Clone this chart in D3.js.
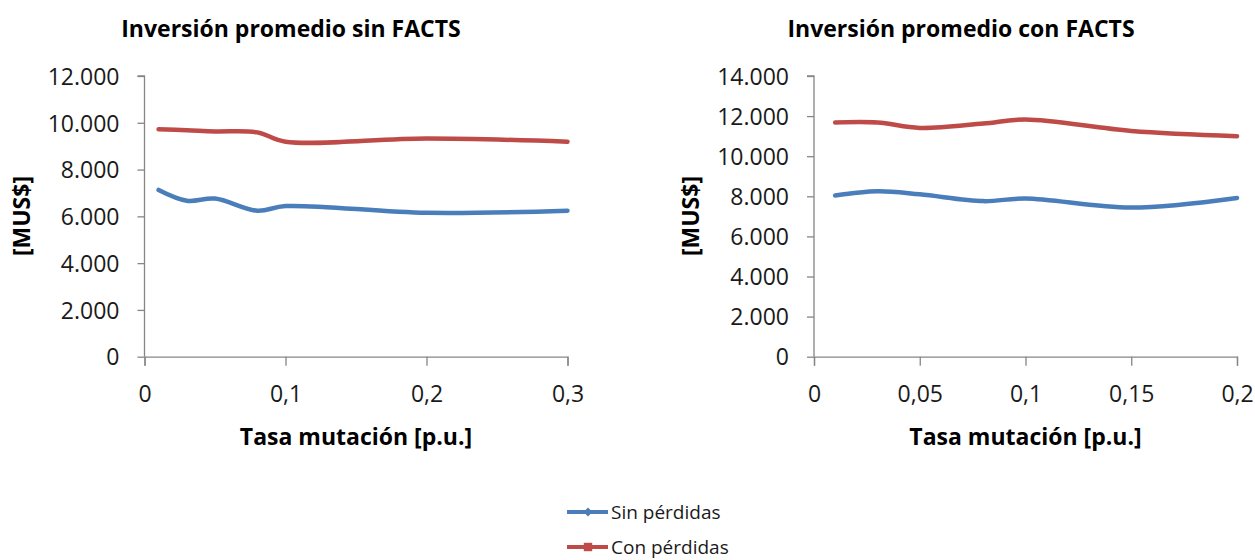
<!DOCTYPE html>
<html>
<head>
<meta charset="utf-8">
<script src="https://cdn.jsdelivr.net/npm/d3@7"></script>
<style>
  body { margin: 0; background: #ffffff; }
  svg { display: block; font-family: "Open Sans", "Noto Sans", sans-serif; }
</style>
</head>
<body>
<svg id="chart" width="1255" height="560"></svg>
<script>
// Left panel: investment without FACTS
const rateSin = [0.01, 0.03, 0.05, 0.08, 0.1, 0.2, 0.3];
const sinFactsSinPerdidas = [7130, 6670, 6760, 6240, 6440, 6150, 6240];
const sinFactsConPerdidas = [9720, 9680, 9630, 9590, 9190, 9330, 9190];

// Right panel: investment with FACTS
const rateCon = [0.01, 0.03, 0.05, 0.08, 0.1, 0.15, 0.2];
const conFactsSinPerdidas = [8040, 8250, 8100, 7760, 7890, 7440, 7920];
const conFactsConPerdidas = [11680, 11680, 11410, 11630, 11830, 11260, 11000];

const xTicksSin = [0, 0.1, 0.2, 0.3];
const xTicksCon = [0, 0.05, 0.1, 0.15, 0.2];
const yTicksSin = [0, 2000, 4000, 6000, 8000, 10000, 12000];
const yTicksCon = [0, 2000, 4000, 6000, 8000, 10000, 12000, 14000];

const seriesNames = ['Sin pérdidas', 'Con pérdidas'];
const colors = ['#4a7ebb', '#be4b48'];

const axisColor = '#868686';
const fmtY = d3.formatLocale({decimal: ',', thousands: '.', grouping: [3], currency: ['', '']}).format(',');
const fmtX = v => String(v).replace('.', ',');

const svg = d3.select('#chart');


function drawPanel(selection, cfg) {
  const x = d3.scaleLinear().domain(cfg.xDomain).range([cfg.left, cfg.right]);
  const y = d3.scaleLinear().domain(cfg.yDomain).range([cfg.bottom, cfg.top]);

  const g = selection.append('g').attr('class', 'panel');

  // title
  g.append('text')
      .attr('x', cfg.titleX)
      .attr('y', 37)
      .attr('text-anchor', 'middle')
      .attr('font-size', 23)
      .attr('font-weight', 'bold')
      .attr('fill', '#000')
      .text(cfg.title);

  // axes
  const yAxis = d3.axisLeft(y)
      .tickValues(cfg.yTicks)
      .tickFormat(fmtY)
      .tickSize(7)
      .tickPadding(18);
  const ya = g.append('g')
      .attr('transform', `translate(${cfg.left},0)`)
      .call(yAxis);
  ya.select('.domain').attr('d', `M-7,${cfg.top}H0V${cfg.bottom}`);

  const xAxis = d3.axisBottom(x)
      .tickValues(cfg.xTicks)
      .tickFormat(fmtX)
      .tickSize(9)
      .tickPadding(20);
  g.append('g')
      .attr('transform', `translate(0,${cfg.bottom})`)
      .call(xAxis);

  g.selectAll('.domain, .tick line')
      .attr('stroke', axisColor)
      .attr('stroke-width', 1.3);
  g.selectAll('.tick text')
      .attr('font-size', 23)
      .attr('font-family', '"Open Sans", sans-serif')
      .attr('fill', '#1a1a1a');
  ya.selectAll('.tick text').attr('dy', '0.36em');

  // axis titles
  g.append('text')
      .attr('x', (cfg.left + cfg.right) / 2)
      .attr('y', 445)
      .attr('text-anchor', 'middle')
      .attr('font-size', 23)
      .attr('font-weight', 'bold')
      .text('Tasa mutación [p.u.]');
  g.append('text')
      .attr('transform', `translate(${cfg.yTitleX},216) rotate(-90)`)
      .attr('text-anchor', 'middle')
      .attr('dy', '0.35em')
      .attr('font-size', 23)
      .attr('font-weight', 'bold')
      .text('[MUS$]');

  // series
  const line = d3.line()
      .x(d => x(d[0]))
      .y(d => y(d[1]))
      .curve(d3.curveCatmullRom.alpha(0.5));
  cfg.series.forEach((values, i) => {
    g.append('path')
        .datum(cfg.xs.map((v, k) => [v, values[k]]))
        .attr('fill', 'none')
        .attr('stroke', colors[i])
        .attr('stroke-width', 4.5)
        .attr('stroke-linecap', 'round')
        .attr('stroke-linejoin', 'round')
        .attr('d', line);
  });
}


svg.call(drawPanel, {
  title: 'Inversión promedio sin FACTS', titleX: 291,
  left: 144.5, right: 567.5, top: 76, bottom: 356.7, yTitleX: 22,
  xDomain: [0, 0.3], yDomain: [0, 12000],
  xTicks: xTicksSin, yTicks: yTicksSin,
  xs: rateSin, series: [sinFactsSinPerdidas, sinFactsConPerdidas]
});

svg.call(drawPanel, {
  title: 'Inversión promedio con FACTS', titleX: 961,
  left: 814, right: 1237, top: 76, bottom: 356.7, yTitleX: 691,
  xDomain: [0, 0.2], yDomain: [0, 14000],
  xTicks: xTicksCon, yTicks: yTicksCon,
  xs: rateCon, series: [conFactsSinPerdidas, conFactsConPerdidas]
});

// Legend
const legend = svg.append('g').attr('class', 'legend');
const items = legend.selectAll('.item')
    .data(seriesNames)
  .enter().append('g')
    .attr('class', 'item')
    .attr('transform', (d, i) => `translate(567,${512 + i * 35})`);
items.append('line')
    .attr('x1', 0).attr('x2', 41)
    .attr('stroke', (d, i) => colors[i])
    .attr('stroke-width', 4);
items.append('path')
    .attr('transform', 'translate(21,0)')
    .attr('fill', (d, i) => colors[i])
    .attr('d', (d, i) => d3.symbol(i === 0 ? d3.symbolDiamond2 : d3.symbolSquare2, i === 0 ? 50 : 90)());
items.append('text')
    .attr('x', 44)
    .attr('dy', '0.35em')
    .attr('font-size', 19)
    .attr('fill', '#1a1a1a')
    .text(d => d);
</script>
</body>
</html>
